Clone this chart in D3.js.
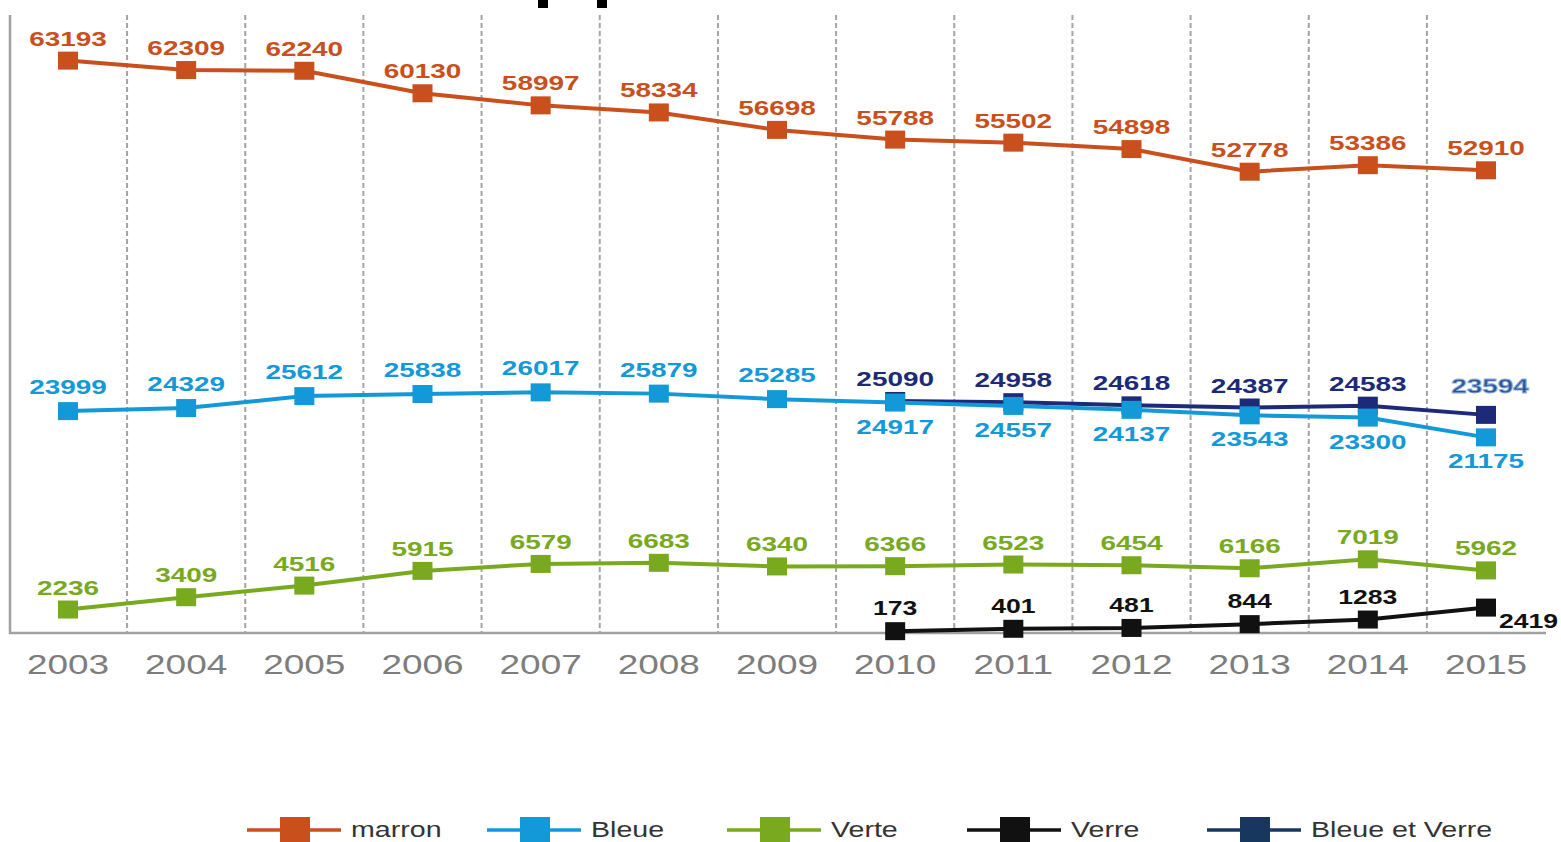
<!DOCTYPE html>
<html>
<head>
<meta charset="utf-8">
<script src="https://cdn.jsdelivr.net/npm/d3@7"></script>
<style>
  body { margin: 0; background: #fff; }
  text { font-family: "Liberation Sans", Arial, sans-serif; }
</style>
</head>
<body>
<div id="app"></div>
<script>
// data
const years = [2003, 2004, 2005, 2006, 2007, 2008, 2009, 2010, 2011, 2012, 2013, 2014, 2015]
const marron = [63193, 62309, 62240, 60130, 58997, 58334, 56698, 55788, 55502, 54898, 52778, 53386, 52910]
const bleue = [23999, 24329, 25612, 25838, 26017, 25879, 25285, 24917, 24557, 24137, 23543, 23300, 21175]
const verte = [2236, 3409, 4516, 5915, 6579, 6683, 6340, 6366, 6523, 6454, 6166, 7019, 5962]
const verre = [null, null, null, null, null, null, null, 173, 401, 481, 844, 1283, 2419]
const bleueEtVerre = [null, null, null, null, null, null, null, 25090, 24958, 24618, 24387, 24583, 23594]
const legendLabels = ['marron', 'Bleue', 'Verte', 'Verre', 'Bleue et Verre']

const W = 1561, H = 842
const svg = d3.select('#app').append('svg').attr('width', W).attr('height', H)

const x = d3.scaleLinear().domain([2003, 2015]).range([68, 1486])
// the original chart's value axis is not uniform, so a piecewise scale follows it
const y = d3.scaleLinear()
  .domain([0, 7000, 21000, 26000, 52000, 64000])
  .range([633, 559.5, 439, 392.5, 180, 52])

const stretch = 1.33

// stubs of a cut-off title at the top
svg.append('rect').attr('x', 538).attr('y', 0).attr('width', 10).attr('height', 8).attr('fill', '#000')
svg.append('rect').attr('x', 597).attr('y', 0).attr('width', 10).attr('height', 8).attr('fill', '#000')

// dashed separators between years
svg.append('g').selectAll('line')
  .data(years.slice(0, -1))
  .join('line')
  .attr('x1', d => x(d + 0.5)).attr('x2', d => x(d + 0.5))
  .attr('y1', 15).attr('y2', 633)
  .attr('stroke', '#a3a3a3').attr('stroke-width', 2).attr('stroke-dasharray', '5,3')

// axes lines
svg.append('line').attr('x1', 10).attr('x2', 10).attr('y1', 15).attr('y2', 634)
  .attr('stroke', '#a0a0a0').attr('stroke-width', 2.5)
svg.append('line').attr('x1', 9).attr('x2', 1546).attr('y1', 633).attr('y2', 633)
  .attr('stroke', '#a0a0a0').attr('stroke-width', 2.5)

// year labels
svg.append('g').selectAll('text')
  .data(years)
  .join('text')
  .attr('transform', d => `translate(${x(d)},674) scale(1.32,1)`)
  .attr('text-anchor', 'middle')
  .attr('font-size', 28)
  .attr('fill', '#7d7d7d')
  .text(d => d)

const series = [
  {name: 'marron', values: marron, color: '#c9501c', label: '#c9501c'},
  {name: 'Bleue et Verre', values: bleueEtVerre, color: '#1c2a78', label: '#1c2a78'},
  {name: 'Bleue', values: bleue, color: '#1499d8', label: '#1499d8'},
  {name: 'Verte', values: verte, color: '#78a91e', label: '#78a91e'},
  {name: 'Verre', values: verre, color: '#111111', label: '#111111'}
]

const line = d3.line()
  .defined(d => d.v != null)
  .x(d => x(d.year))
  .y(d => y(d.v))

// label placement per series
const labelPos = (s, d, i) => {
  let lx = x(d.year), ly = y(d.v) - 15, anchor = 'middle'
  if (s.name === 'Bleue') ly = i < 7 ? y(d.v) - 17 : y(d.v) + 31
  if (s.name === 'Verre') {
    ly = y(d.v) - 16
    if (i === years.length - 1) { lx = x(d.year) + 13; ly = y(d.v) + 20; anchor = 'start' }
  }
  if (s.name === 'Bleue et Verre' && i === years.length - 1) { lx = x(d.year) + 4; ly = y(d.v) - 22 }
  return {lx, ly, anchor}
}

series.forEach(s => {
  const pts = years.map((year, i) => ({year, v: s.values[i], i})).filter(d => d.v != null)
  const g = svg.append('g')
  g.append('path')
    .datum(pts)
    .attr('d', line)
    .attr('fill', 'none')
    .attr('stroke', s.color)
    .attr('stroke-width', 4)
  g.selectAll('rect')
    .data(pts)
    .join('rect')
    .attr('x', d => x(d.year) - 10)
    .attr('y', d => y(d.v) - 9)
    .attr('width', 20)
    .attr('height', 18)
    .attr('fill', s.color)
})

// value labels drawn last so they sit above the lines
series.forEach(s => {
  const pts = years.map((year, i) => ({year, v: s.values[i], i})).filter(d => d.v != null)
  svg.append('g').selectAll('text')
    .data(pts)
    .join('text')
    .each(function (d) {
      const p = labelPos(s, d, d.i)
      const last = s.name === 'Bleue et Verre' && d.i === years.length - 1
      d3.select(this)
        .attr('transform', `translate(${p.lx},${p.ly}) scale(${stretch},1)`)
        .attr('text-anchor', p.anchor)
        .attr('fill', last ? '#2f5597' : s.label)
        .attr('stroke', last ? '#8fb0dc' : 'none')
        .attr('stroke-width', last ? 0.8 : 0)
        .attr('font-size', s.name === 'Verre' ? 20 : 21)
    })
    .attr('font-weight', 'bold')
    .text(d => d.v)
})

// legend
const legendColors = ['#c9501c', '#1499d8', '#78a91e', '#111111', '#17375e']
const legend = svg.append('g').selectAll('g')
  .data(legendLabels)
  .join('g')
  .attr('transform', (d, i) => `translate(${247 + i * 240},830)`)
legend.append('line')
  .attr('x1', 0).attr('x2', 94).attr('y1', 0).attr('y2', 0)
  .attr('stroke', (d, i) => legendColors[i]).attr('stroke-width', 3.5)
legend.append('rect')
  .attr('x', 33).attr('y', -13).attr('width', 30).attr('height', 30)
  .attr('fill', (d, i) => legendColors[i])
legend.append('text')
  .attr('transform', 'translate(104,7) scale(1.3,1)')
  .attr('font-size', 22)
  .attr('fill', '#333')
  .text(d => d)
</script>
</body>
</html>
